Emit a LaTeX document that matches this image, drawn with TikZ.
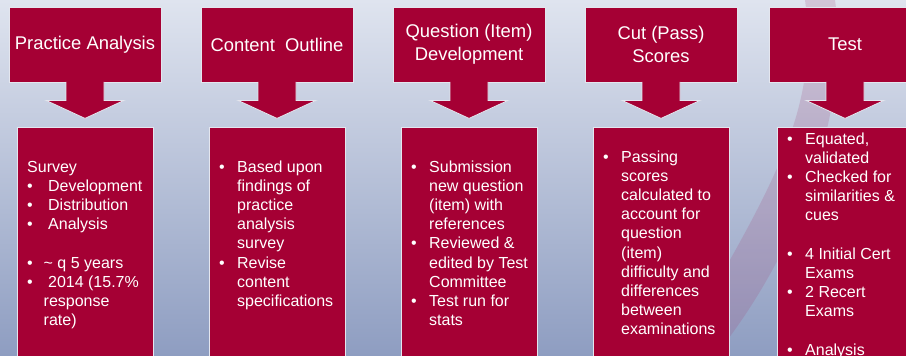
\documentclass[tikz,border=0pt]{standalone}
\usepackage{fontspec}
\setmainfont{Liberation Sans}

\definecolor{crimson}{HTML}{A50034}
\definecolor{bgtop}{HTML}{DFE4EF}
\definecolor{bgbot}{HTML}{8E9DC1}
\definecolor{rim}{HTML}{E4E6EE}
\definecolor{swoosh}{HTML}{A0487A}

\newcommand{\pitem}[1]{\hangindent=18pt\hangafter=1\noindent\makebox[18pt][l]{\textbullet}#1\par}
\newcommand{\gap}{\noindent\mbox{}\par}

\tikzset{
  stage/.style={draw=rim, fill=crimson, line width=0.8pt, minimum width=152pt,
    minimum height=75pt, inner sep=0pt, text=white, align=center,
    font=\fontsize{18.4}{23}\selectfont},
  stem/.style={draw=rim, fill=crimson, line width=0.8pt},
  panel/.style={draw=rim, fill=crimson, line width=0.8pt, minimum width=136pt,
    minimum height=240pt, inner sep=0pt, anchor=north},
  items/.style={anchor=base west, text width=119pt, align=flush left, inner sep=0pt,
    text=white, font=\fontsize{16}{19.2}\selectfont}
}

\begin{document}
\begin{tikzpicture}[x=1pt,y=-1pt]
\useasboundingbox (0,0) rectangle (906,356);
\clip (0,0) rectangle (906,356);
\shade[top color=bgtop, bottom color=bgbot] (0,0) rectangle (906,356);
% faint swoosh behind the last column
\fill[swoosh, opacity=0.2] (805,0) .. controls (820,110) and (770,190) .. (690,330)
  -- (700,356) -- (715,356) .. controls (800,250) and (850,110) .. (835,0) -- cycle;

% stages
\node[stage] (t1) at (85,44.5) {Practice Analysis};
\node[stage] (t2) at (277,44.5) {Content\ \ Outline};
\node[stage] (t3) at (469,44.5) {Question (Item)\\Development};
\node[stage] (t4) at (661,44.5) {Cut (Pass)\\Scores};
\node[stage] (t5) at (845,44.5) {Test};

\path[stem] (t1.south) ++(-19,-0.5) -- ++(0,18.5) -- ++(-20,0) -- ++(39,18) -- ++(39,-18) -- ++(-20,0) -- ++(0,-18.5);
\path[stem] (t2.south) ++(-19,-0.5) -- ++(0,18.5) -- ++(-20,0) -- ++(39,18) -- ++(39,-18) -- ++(-20,0) -- ++(0,-18.5);
\path[stem] (t3.south) ++(-19,-0.5) -- ++(0,18.5) -- ++(-20,0) -- ++(39,18) -- ++(39,-18) -- ++(-20,0) -- ++(0,-18.5);
\path[stem] (t4.south) ++(-19,-0.5) -- ++(0,18.5) -- ++(-20,0) -- ++(39,18) -- ++(39,-18) -- ++(-20,0) -- ++(0,-18.5);
\path[stem] (t5.south) ++(-19,-0.5) -- ++(0,18.5) -- ++(-20,0) -- ++(39,18) -- ++(39,-18) -- ++(-20,0) -- ++(0,-18.5);

% panels
\node[panel] (p1) at (85,127) {};
\node[panel] (p2) at (277,127) {};
\node[panel] (p3) at (469,127) {};
\node[panel] (p4) at (661,127) {};
\node[panel] (p5) at (845,127) {};

\node[items] (l1) at (27,172) {Survey\par
  \noindent\makebox[21pt][l]{\textbullet}Development\par
  \noindent\makebox[21pt][l]{\textbullet}Distribution\par
  \noindent\makebox[21pt][l]{\textbullet}Analysis\par
  \gap
  \noindent\makebox[16.5pt][l]{\textbullet}\textasciitilde\ q 5 years\par
  \noindent\makebox[16.5pt][l]{\textbullet}\ 2014 (15.7\%\par
  \noindent\hspace*{16.5pt}response\par
  \noindent\hspace*{16.5pt}rate)\par};
\node[items] (l2) at (219,172) {\pitem{Based upon findings of practice analysis survey}%
  \pitem{Revise content specifications}};
\node[items] (l3) at (411,172) {\pitem{Submission new question (item) with references}%
  \pitem{Reviewed \& edited by Test Committee}%
  \pitem{Test run for stats}};
\node[items] (l4) at (603,162) {\pitem{Passing scores calculated to account for question (item) difficulty and differences between examinations}};
\node[items] (l5) at (787,144) {\pitem{Equated, validated}%
  \pitem{Checked for similarities \& cues}%
  \gap
  \pitem{4 Initial Cert Exams}%
  \pitem{2 Recert Exams}%
  \gap
  \pitem{Analysis}};
\end{tikzpicture}
\end{document}
